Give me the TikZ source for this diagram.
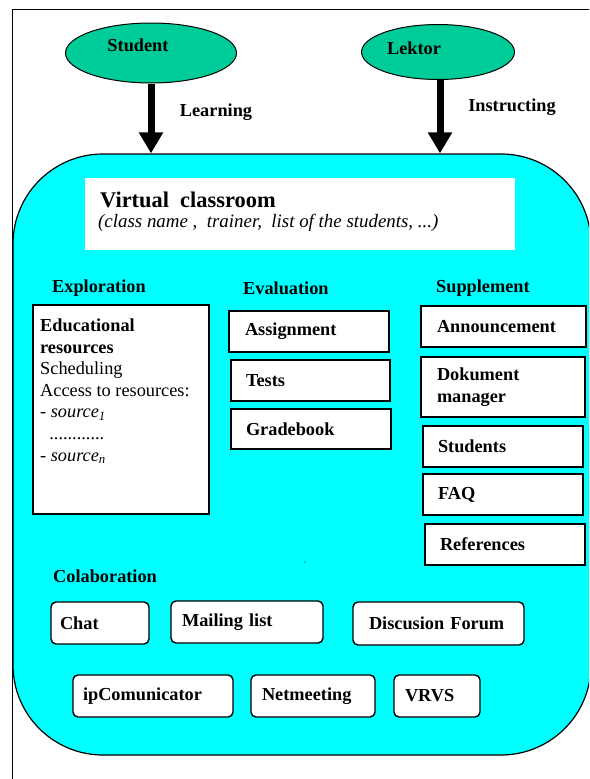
\documentclass[tikz,border=0pt]{standalone}
\usepackage{fontspec}
\setmainfont{Liberation Serif}
\usetikzlibrary{arrows.meta,shapes.geometric}
\definecolor{actorgreen}{RGB}{0,204,153}
\definecolor{roomcyan}{RGB}{0,255,255}

\begin{document}
\begin{tikzpicture}[x=1pt,y=-1pt,
  every node/.style={font=\fontsize{18.3}{21.5}\selectfont\bfseries, inner sep=0pt},
  actor/.style={ellipse, draw, fill=actorgreen, line width=1pt},
  flow/.style={line width=7pt, -{Triangle[width=23pt,length=21pt]}},
  sqbox/.style n args={3}{draw, fill=white, line width=1.4pt,
    minimum width=#1, minimum height=#2, text width=#3, align=left},
  rdbox/.style n args={3}{sqbox={#1}{#2}{#3}, rounded corners=5pt},
  heading/.style={anchor=west},
]
\useasboundingbox (0,0) rectangle (589,779);
\clip (0,0) rectangle (589,779);

% page frame
\draw[line width=0.9pt] (12,800) -- (12,9) -- (620,9);

% actors
\node[actor, minimum width=171pt, minimum height=60pt] (student) at (151,53) {};
\node (studentText) at (138,45) {Student};
\node[actor, minimum width=153pt, minimum height=55pt] (lektor) at (438,52) {};
\node (lektorText) at (414,48) {Lektor};

% the classroom area
\node[draw, fill=roomcyan, line width=1.2pt, rounded corners=90pt,
      minimum width=578pt, minimum height=601pt] (room) at (302,454.5) {};

% actor arrows
\coordinate (lektorOut) at (440,79);
\draw[flow] (student.south) -- (student.south |- room.north);
\draw[flow] (lektorOut) -- (lektorOut |- room.north);
\node (learn) at (216,112) {Learning};
\node (instr) at (512,107) {Instructing};

% title panel
\node[fill=white, minimum width=430pt, minimum height=72pt] (title) at (300,214) {};
\node[anchor=west, font=\fontsize{22.4}{26}\selectfont\bfseries] (titleText) at (100,200) {Virtual\ \ classroom};
\node[anchor=west, font=\fontsize{18.9}{22}\selectfont\itshape] (titleSub) at (98,223)
  {(class name ,\ \ trainer,\ \ list of the students, ...)};

% headings
\node[heading] (hExpl) at (52,288) {Exploration};
\node[heading] (hEval) at (243,288) {Evaluation};
\node[heading] (hSupp) at (436,288) {Supplement};
\node[heading] (hCola) at (53,576) {Colaboration};

% exploration
\node[draw, fill=white, line width=1.4pt, minimum width=176pt, minimum height=209pt] (expl) at (121,409.5) {};
\node[anchor=north west, align=left, font=\fontsize{18.3}{21.6}\selectfont] (explText) at (40,318.5)
  {\textbf{Educational}\\ \textbf{resources}\\ Scheduling\\ Access to resources:\\
   - \textit{source}\textsubscript{\textit{1}}\\ \ \ ............\\ - \textit{source}\textsubscript{\textit{n}}};

% evaluation
\node[sqbox={160pt}{41pt}{128pt}] (assign) at (309,331.5) {Assignment};
\node[sqbox={159pt}{41pt}{129pt}] (tests) at (310.5,380.5) {Tests};
\node[sqbox={160pt}{40pt}{130pt}] (grade) at (311,429) {Gradebook};

% supplement
\node[sqbox={165pt}{41pt}{133pt}] (announce) at (503.5,326.5) {Announcement};
\node[sqbox={164pt}{60pt}{132pt}] (dokument) at (503,387) {Dokument\\manager};
\node[sqbox={160pt}{41pt}{130pt}] (students) at (503,446.5) {Students};
\node[sqbox={160pt}{41pt}{130pt}] (faq) at (503,494.5) {FAQ};
\node[sqbox={160pt}{41pt}{130pt}] (refs) at (505,544.5) {References};

\fill (305,562) circle (0.7pt);

% collaboration
\node[rdbox={98pt}{42pt}{80pt}] (chat) at (100,623) {Chat};
\node[rdbox={152pt}{42pt}{130pt}] (mail) at (247,622) {Mailing list};
\node[rdbox={171pt}{43pt}{139pt}] (forum) at (438.5,623.5) {Discusion Forum};
\node[rdbox={160pt}{42pt}{140pt}] (ipcom) at (153,696) {ipComunicator};
\node[rdbox={124pt}{42pt}{102pt}] (netm) at (313,696) {Netmeeting};
\node[rdbox={86pt}{42pt}{64pt}] (vrvs) at (437,696) {VRVS};
\end{tikzpicture}
\end{document}
